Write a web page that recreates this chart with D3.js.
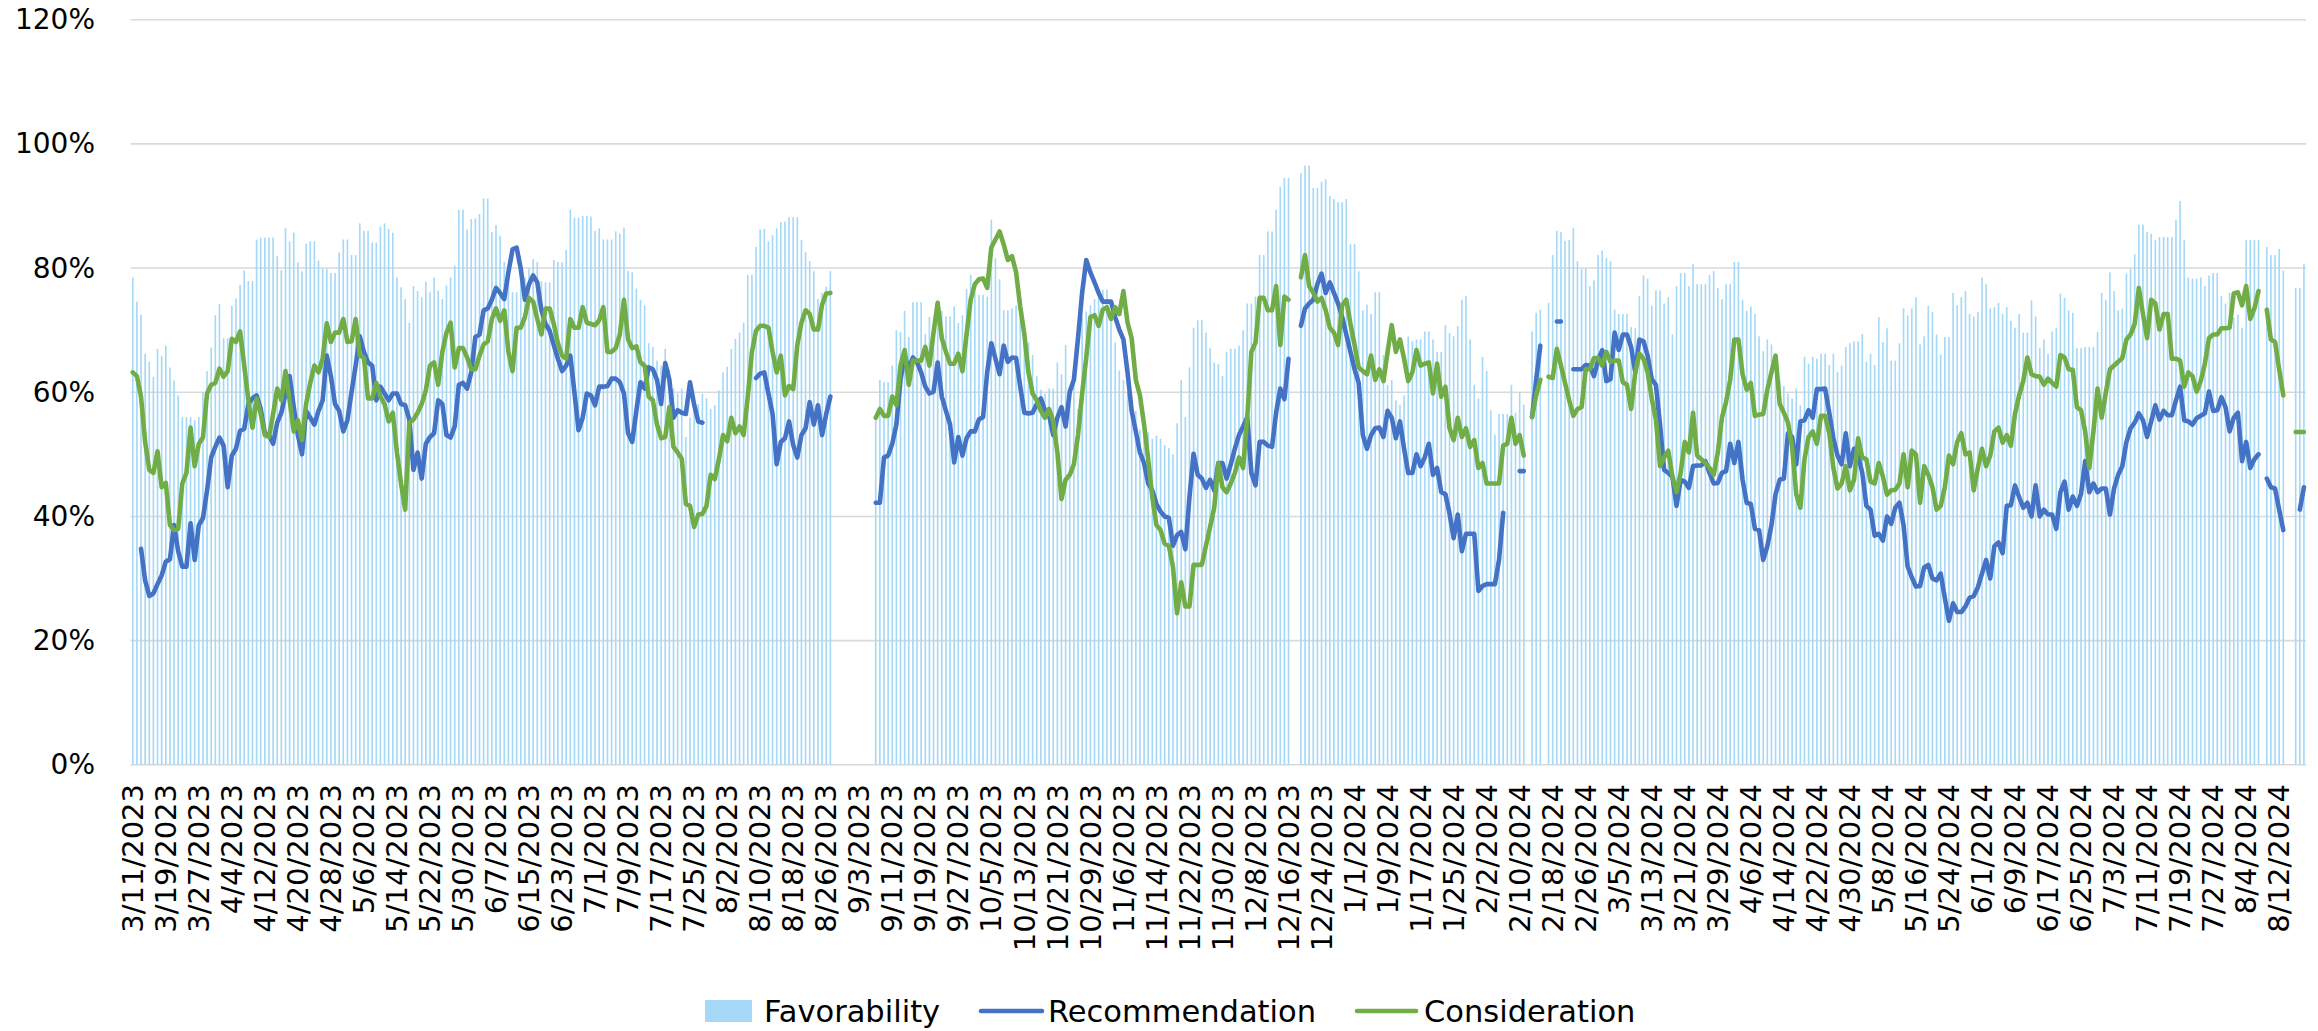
<!DOCTYPE html>
<html><head><meta charset="utf-8">
<script src="https://cdn.jsdelivr.net/npm/d3@7"></script>
<style>html,body{margin:0;padding:0;background:#fff;}svg{display:block;font-family:"DejaVu Sans",sans-serif;}</style>
</head><body><svg id="c" width="2318" height="1031"></svg>
<script>
const startDate = "2023-03-11";
const dayCount = 527;
const tickLabels = ["3/11/2023","3/19/2023","3/27/2023","4/4/2023","4/12/2023","4/20/2023","4/28/2023","5/6/2023","5/14/2023","5/22/2023","5/30/2023","6/7/2023","6/15/2023","6/23/2023","7/1/2023","7/9/2023","7/17/2023","7/25/2023","8/2/2023","8/10/2023","8/18/2023","8/26/2023","9/3/2023","9/11/2023","9/19/2023","9/27/2023","10/5/2023","10/13/2023","10/21/2023","10/29/2023","11/6/2023","11/14/2023","11/22/2023","11/30/2023","12/8/2023","12/16/2023","12/24/2023","1/1/2024","1/9/2024","1/17/2024","1/25/2024","2/2/2024","2/10/2024","2/18/2024","2/26/2024","3/5/2024","3/13/2024","3/21/2024","3/29/2024","4/6/2024","4/14/2024","4/22/2024","4/30/2024","5/8/2024","5/16/2024","5/24/2024","6/1/2024","6/9/2024","6/17/2024","6/25/2024","7/3/2024","7/11/2024","7/19/2024","7/27/2024","8/4/2024","8/12/2024"];
const yTicks = [0, 0.2, 0.4, 0.6, 0.8, 1.0, 1.2];
const seriesNames = ["Favorability", "Recommendation", "Consideration"];
const _ = null;
const favorability = [
78.5,74.6,72.5,66.2,64.9,62.5,67,65.8,67.5,64,
61.9,59.5,56,56,56,55.5,56,60,63.4,67.2,
72.4,74.2,68.7,68.7,73.9,75.1,77.3,79.6,77.9,77.9,
84.6,84.9,84.9,84.9,84.9,81.9,79.7,86.4,84.3,85.7,
80.9,79.5,83.9,84.3,84.3,81.2,79.9,79.9,79.2,79.2,
82.5,84.6,84.6,82.1,82.1,87.2,86,86,84.1,84.1,
86.7,87.2,86.3,85.7,78.5,76.9,75,71.2,77.1,76.3,
75.3,77.8,76.1,78.5,76.4,75,77.2,78.5,80.4,89.4,
89.4,86.2,87.9,88,88.7,91.2,91.2,85.8,86.9,85.2,
81,79.3,76.1,76.1,77.7,78.5,79.9,81.4,81,77.9,
77.7,77.7,81.3,81,80.9,82.9,89.4,88.1,88.1,88.4,
88.4,88.3,86,86.4,84.6,84.6,84.6,85.9,85.5,86.5,
79.5,79.3,76.7,74.9,74,67.9,67.3,65.1,64.3,67,
63.7,60.6,59.8,60.6,52.8,55.9,57.6,58.1,59.8,59,
57.3,57.9,60.3,63.2,64.1,67,68.6,69.6,71.2,78.9,
78.9,83.4,86.2,86.3,84.3,85.3,86.4,87.4,87.5,88.2,
88.2,88.2,84.5,82.6,81.1,79.5,75,76,77,79.5,
_,_,_,_,_,_,_,_,_,_,
55.9,62,61.6,61.6,64.3,70,69.7,73.1,68.9,74.5,
74.5,74.5,69.4,72.1,68.2,72.4,73.1,72.2,72.2,73.8,
71.2,72.4,76.6,78.9,76.3,75.7,75.7,75.4,87.8,81.6,
78.2,73.2,73.2,73.5,74,72,70,68,66,62.6,
60.4,59.8,60.6,60.6,64.8,62.9,67.6,60,62,57.3,
72.1,73,74,75,75.5,76.5,76.5,71.5,68,63.5,
62,60,59.5,57,54,53,53.5,52.5,53,52.5,
51.5,51,50,55,62,56,64,70.4,71.6,71.6,
69.6,67.1,64.8,64.5,62.6,66.5,67,67,67.5,70,
74.3,74.3,75.4,82.1,82.1,85.9,85.9,89.4,93.1,94.5,
94.5,_,_,95.3,96.5,96.5,92.9,92.9,93.9,94.3,
91.6,91.1,90.6,90.6,91.1,83.9,83.9,79.5,73.2,74.1,
72.6,76.1,76.1,66,61.2,62,58.7,58,59.5,69,
68.2,68.5,68.5,69.8,69.8,68.5,66.5,66.5,70.8,69.5,
69,70.7,74.9,75.5,68.5,61.2,59,65.7,63.4,57.1,
53.2,56.5,56.5,56.5,61.2,56.7,60,58,_,69.8,
72.8,73.3,_,74.4,82.1,86,85.8,84.4,84.5,86.4,
81.1,79.9,79.9,77.1,78,82.1,82.8,81.6,81.1,73.3,
72.6,72.6,72.6,70.5,70.3,75.5,78.8,78.3,73.9,76.4,
76.4,74.3,75.3,69.3,77.1,79.2,79.2,77.1,80.6,77.4,
77.4,77.4,78.9,79.5,76.8,75,77.4,77.4,81,81,
74.9,73.1,73.8,72.6,69,66.6,68.5,67.7,64,62,
61,59.8,59,60.6,57.9,65.7,64.6,65.7,65.4,66.2,
66.2,64.4,66.2,63.3,64.3,67.3,67.9,68.2,68.2,69.4,
64.9,66.2,64.4,72.1,68.1,70.3,65.1,65.1,67.9,73.5,
72.4,73.5,75.3,67.7,69,73.9,72.9,69.3,66.1,68.9,
68.9,76,74,75.3,76.3,72.6,72.2,72.9,78.5,77.4,
73.5,73.7,74.4,72.6,73.7,71.5,70.4,72.6,69.6,69.6,
74.8,72.2,67.1,68.5,66.2,69.8,70.4,75.9,75.2,73.2,
72.8,67.1,67.1,67.3,67.3,67.3,69.7,76,74.9,79.3,
76.3,73.2,73.5,79.1,79.9,82.2,87,87,85.8,85.5,
84.5,85,85,85,85,87.8,90.8,84.5,78.5,78.3,
78.3,78.5,77.1,78.8,79.2,79.2,75.5,74.3,76,72,
72.5,70.4,84.5,84.5,84.5,84.5,_,83.4,82.1,82.1,
83.1,79.6,_,_,76.8,76.8,80.6];
const recommendation = [
_,_,34.8,29.7,27.2,27.6,29.1,30.5,32.7,33.1,
38.6,34.4,31.9,31.9,38.9,33,38.6,39.7,44.2,49.5,
51.2,52.7,51.4,44.7,49.8,50.9,53.8,54.1,58.1,59,
59.5,57.3,53.4,53.1,51.7,55.1,56.7,59.8,62.6,57.6,
53.1,50,57,55.9,54.8,57,58.7,65.9,62.6,58.1,
57,53.7,55.5,60,64.3,69,66.5,64.8,64.3,58.7,
60.9,59.8,58.7,59.8,59.8,58.1,57.9,55.6,47.5,50.3,
46.1,51.7,52.8,53.4,58.7,58.1,53.1,52.7,54.5,61.2,
61.5,60.6,63.2,68.9,69.3,73.2,73.5,74.9,76.8,76,
75,79.3,83,83.3,79.9,74.9,77.4,78.8,77.7,73.2,
71,69.9,67.6,65.4,63.4,64.3,65.9,60,53.9,55.9,
59.8,59.5,57.9,60.9,60.9,61,62.2,62.2,61.6,59.8,
53.4,52,57,61.6,60.6,64,63.7,62,58.1,64.7,
62,55.9,57.1,56.7,56.5,61.6,58,55.3,55.1,_,
_,_,_,_,_,_,_,_,_,_,
_,62.3,63,63.2,59.8,56.5,48.4,52,52.6,55.3,
51.5,49.5,53.1,54.2,58.4,54.8,57.9,53.1,56.5,59.3,
_,_,_,_,_,_,_,_,_,_,
42.2,42.2,49.5,49.8,51.7,54.8,62,65.9,63.7,65.6,
64.8,63.2,60.9,59.8,60.1,64.8,59.3,57,54.8,48.7,
52.8,49.8,52.6,53.7,53.7,55.6,56,63.2,67.9,65.4,
62.9,67.5,64.9,65.6,65.5,60.9,56.7,56.6,56.7,58.1,
59,57.1,56.3,53.1,55.9,57.6,54.5,60.1,62,68.7,
76,81.3,79.3,77.7,76,74.6,74.6,74.6,72.1,70.1,
68.5,63.2,57,53.7,50.3,48.6,45.3,44.2,42,40.8,
40,39.8,35.3,37,37.5,34.7,43.1,50.1,46.7,46.1,
44.6,45.9,44.2,48.6,48.6,46.1,48.4,50.9,53.1,54.5,
56,47,45,52,52,51.4,51.2,56.7,60.6,58.9,
65.4,_,_,70.7,73.5,74.3,74.9,77.4,79.1,76,
77.7,76,74.3,72.1,69.3,66.5,63.7,61.5,53.1,50.9,
53.1,54.2,54.3,52.8,57,55.9,52.6,55.3,50.9,47,
47,50,48.1,49.5,51.7,46.7,47.8,43.9,43.6,40.5,
36.5,40.3,34.4,37.2,37.2,37.2,28,28.8,29.1,29.1,
29.1,33,40.6,_,_,_,47.3,47.3,_,56,
62,67.5,_,_,_,71.4,71.4,_,_,63.7,
63.7,63.7,64.4,64.3,62.6,65.1,66.8,61.8,62.1,69.6,
66.8,69.3,69.3,67.3,63.2,68.5,68.2,65.9,62.1,61.2,
54.8,47.5,47,46.4,41.7,45.9,45.6,44.6,48.1,48.2,
48.2,48.9,47,45.3,45.4,47,47.3,51.7,48.6,52,
45.9,42.2,42,38,37.8,33,35.2,38.6,43.6,45.9,
46.1,53.4,52.8,48.4,55.3,55.5,57.1,55.9,60.5,60.5,
60.6,56.7,52.6,49.8,48.4,53.4,48.1,50.9,49.8,47,
41.7,41.1,36.9,37.2,36.1,40,38.8,41.4,42.2,38.6,
31.9,30.2,28.7,28.8,31.8,32.2,30,29.7,30.8,26.9,
23.2,26,24.6,24.6,25.5,26.9,27.2,28.6,30.8,33,
30,35.2,35.8,34.1,41.7,41.8,45,43.1,41.4,42.2,
40,45,40,41.1,40.3,40.3,38,43.9,45.6,41.1,
43.2,41.7,43.6,48.9,43.9,45.3,43.9,44.5,44.5,40.3,
44.5,46.7,48.1,52,54.2,55.1,56.6,55.5,52.8,55.3,
57.9,55.6,57,56.3,56.3,58.7,60.9,55.5,55.3,54.8,
55.8,56.2,56.6,60.1,57,57.1,59.2,57.6,53.7,55.9,
56.7,48.9,52,47.8,49.2,50,_,46.1,44.7,44.5,
41.1,37.8,_,_,_,41.1,44.7];
const consideration = [
63.2,62.6,59.3,52,47.5,47,50.5,44.7,45.4,38.6,
37.8,38,45.3,47,54.3,48.1,51.7,52.7,59.8,61.2,
61.5,63.8,62.5,63.4,68.6,68.1,69.8,64.3,58.7,54.3,
59,56.5,53.1,52.8,56.5,60.6,58.7,63.4,58.7,53.7,
55.5,52.3,58.1,61.5,64.3,63.2,65.4,71.1,68.1,69.6,
69.6,71.8,68.1,68.2,71.8,65.9,65.6,59,59,61.5,
59.3,58.1,55.3,56.7,50.3,45.3,41.1,55.1,55.6,56.7,
58.1,60.3,64.3,64.8,61.2,66.5,69.6,71.2,64,67.1,
67.1,65.6,63.7,63.7,65.9,67.7,68.2,71.8,73.5,71.5,
73.2,66.5,63.4,70.4,70.4,72.1,75.2,74.6,71.8,69.3,
73.5,73.5,71,67.9,65.9,65.4,71.8,70.4,70.4,73.7,
71.2,71,70.8,71.6,73.7,66.5,66.5,67.1,69.3,74.9,
68.5,67.1,67.4,64.8,64.3,59.3,58.7,54.8,52.6,52.8,
57.6,51.2,50.3,49.3,42,41.7,38.3,40.3,40.4,41.7,
46.7,46,49.2,53.1,52.1,55.9,53.4,54.5,53.1,59.3,
66.5,69.9,70.7,70.7,70.4,66.5,63.2,65.9,59.5,61,
60.5,67.6,71.2,73.2,72.6,70.1,70.1,74.1,75.9,76,
_,_,_,_,_,_,_,_,_,_,
55.9,57.3,56.2,56.2,59.3,57.9,64.3,66.8,61.2,65.1,
65.1,65.1,67.3,64.3,69.6,74.4,68.7,66.5,64.6,64.6,
66.2,63.4,69.3,74.9,77.4,78.2,78.3,76.8,83.3,84.6,
85.9,83.8,81.3,81.9,79.3,73.8,69.3,63.2,59.8,58.7,
57,55.9,57.3,55.3,50.3,42.8,45.9,46.7,48.4,53.1,
59.8,65.6,72.1,72.4,70.7,73.3,73.7,71.8,73.7,72.6,
76.3,71.2,68.7,62,59.5,54.8,49.2,43.1,38.6,37.8,
35.6,35.3,31.9,24.4,29.4,25.5,25.5,32.2,32.2,32.2,
35.3,38.3,41.4,48.6,44.7,43.9,45.3,47,49.5,47.8,
56,66.5,68,75.2,75.2,73.2,73.2,77.1,67.6,75.4,
74.9,_,_,78.5,82.1,77.1,76,74.6,75.2,73.2,
70.4,69.6,67.6,74,74.9,71,67.6,64,63.4,62.9,
65.9,62,63.7,61.8,66.5,70.8,66.5,68.5,65.4,61.8,
63.2,66.8,64.3,64.6,64.8,59.8,64.6,59.3,60.9,54.2,
52.3,55.9,52.8,54.2,51.2,52.3,47.8,48.6,45.3,45.3,
45.3,45.3,51.4,51.7,55.9,51.7,53.1,49.8,_,56,
59.5,62,_,62.5,62.3,67,64.3,61.5,58.7,56.2,
57.3,57.6,63.7,63.7,65.5,65.5,64.3,66.5,64.9,65.1,
65.1,61.6,61.2,57.3,63.2,66.2,65.4,63.2,59,55.6,
48.1,49.5,50.6,46.4,43.9,47,52,50.3,56.7,49.8,
49.2,48.6,47.8,46.7,50.3,55.9,58.4,62,68.5,68.5,
62.9,60.4,61.5,56.2,56.4,56.5,60.4,63.2,65.9,58.1,
56.7,55.1,51.2,43.6,41.4,49.2,52.8,53.7,51.7,56.2,
56.2,53.4,47.8,44.5,45.3,48.1,44.2,45.9,52.6,49.5,
49.2,45.6,45.3,48.6,46.4,43.5,44.2,44.3,45.3,50,
44.7,50.6,50,42.2,48.1,46.7,44.7,41.1,41.7,44.7,
49.8,48.4,52,53.4,50,50.3,44.2,47.8,50.9,48.1,
49.8,53.7,54.3,51.9,53.1,51.4,56.5,59.5,61.8,65.6,
62.9,62.6,62.5,61.2,62.2,61.5,60.9,66,65.6,63.7,
63.6,57.6,57.1,53.7,47.8,53.7,60.6,55.9,59.9,63.7,
64.3,64.9,65.5,68.5,69.3,71,76.8,72.6,68.7,74.9,
74.3,70.1,72.6,72.6,65.4,65.4,65.1,60.9,63.2,62.6,
60.1,61.8,64.6,68.7,69.3,69.3,70.3,70.3,70.4,75.9,
76.1,74,77.1,71.8,73.5,76.3,_,73.3,68.5,68.1,
63.7,59.5,_,_,53.6,53.6,53.6];

const colors = {fav: "#a6d9f7", rec: "#4472c4", con: "#70ad47", grid: "#d9d9d9", text: "#000"};

const svg = d3.select("#c");
const plot = {left: 130.7, right: 2306, top: 19.7, bottom: 764.8};
const idx = d3.range(dayCount);
const x = d3.scaleBand().domain(idx).range([plot.left, plot.right]).padding(0);
const bw = x.bandwidth();
const xc = i => x(i) + bw / 2;
const y = d3.scaleLinear().domain([0, 1.2]).range([plot.bottom, plot.top]);

// gridlines
svg.append("g").selectAll("line").data(yTicks).join("line")
  .attr("x1", plot.left).attr("x2", plot.right)
  .attr("y1", d => y(d)).attr("y2", d => y(d))
  .attr("stroke", colors.grid).attr("stroke-width", 1.6);

// y axis labels
const yAxis = d3.axisLeft(y).tickValues(yTicks).tickFormat(d3.format(".0%")).tickSize(0).tickPadding(0);
const gy = svg.append("g").attr("transform", `translate(95,0)`).call(yAxis);
gy.select(".domain").remove();
gy.selectAll("text").attr("font-size", 28).attr("font-family", "DejaVu Sans").attr("fill", colors.text).attr("dx", 0);

// bars
const barW = bw * 0.4;
svg.append("g").selectAll("rect").data(idx.filter(i => favorability[i] != null)).join("rect")
  .attr("x", i => xc(i) - barW / 2).attr("width", barW)
  .attr("y", i => y(favorability[i] / 100)).attr("height", i => plot.bottom - y(favorability[i] / 100))
  .attr("fill", colors.fav);

// lines
const line = d3.line().defined(d => d.v != null).x(d => xc(d.i)).y(d => y(d.v / 100));
[[recommendation, colors.rec], [consideration, colors.con]].forEach(([arr, col]) => {
  svg.append("path").datum(idx.map(i => ({i, v: arr[i]})))
    .attr("d", line).attr("fill", "none").attr("stroke", col)
    .attr("stroke-width", 4.6).attr("stroke-linejoin", "round").attr("stroke-linecap", "round");
});

// x labels
const gx = svg.append("g");
tickLabels.forEach((lab, k) => {
  const i = k * 8;
  gx.append("text").attr("transform", `translate(${xc(i)},784) rotate(-90)`)
    .attr("text-anchor", "end").attr("dy", "0.35em")
    .attr("font-size", 29).attr("fill", colors.text).text(lab);
});

// legend
const lg = svg.append("g");
const ly = 1011;
const lfs = 30.5;
lg.append("rect").attr("x", 705).attr("y", ly - 11).attr("width", 47).attr("height", 22).attr("fill", colors.fav);
lg.append("text").attr("x", 764).attr("y", ly).attr("dy", "0.35em").attr("font-size", lfs).text(seriesNames[0]);
lg.append("line").attr("x1", 981).attr("x2", 1042).attr("y1", ly).attr("y2", ly).attr("stroke", colors.rec).attr("stroke-width", 4.6).attr("stroke-linecap", "round");
lg.append("text").attr("x", 1048).attr("y", ly).attr("dy", "0.35em").attr("font-size", lfs).text(seriesNames[1]);
lg.append("line").attr("x1", 1357).attr("x2", 1416).attr("y1", ly).attr("y2", ly).attr("stroke", colors.con).attr("stroke-width", 4.6).attr("stroke-linecap", "round");
lg.append("text").attr("x", 1424).attr("y", ly).attr("dy", "0.35em").attr("font-size", lfs).text(seriesNames[2]);
</script></body></html>
